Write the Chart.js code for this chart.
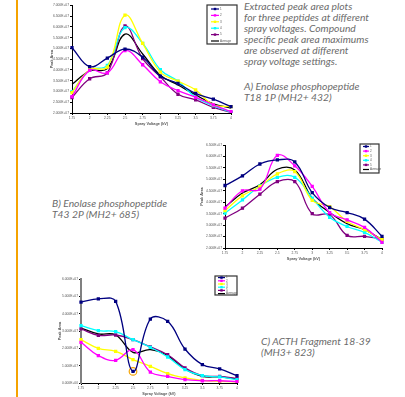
<!DOCTYPE html>
<html>
<head>
<meta charset="utf-8">
<script src="https://cdn.jsdelivr.net/npm/chart.js@4.4.1/dist/chart.umd.min.js"></script>
<style>
body{margin:0;width:405px;height:397px;background:#fff;position:relative;overflow:hidden;font-family:Lato,"Open Sans",sans-serif}
.bar{position:absolute;left:16px;top:0;width:2px;height:397px;background:#F5A300}
.holder{position:absolute}
.txt{position:absolute;font-style:italic;color:#6b6b6b;font-size:10.3px;line-height:11.1px;white-space:nowrap}
</style>
</head>
<body>
<div class="bar"></div>

<div class="txt" style="left:244px;top:0.5px">Extracted peak area plots<br>for three peptides at different<br>spray voltages. Compound<br>specific peak area maximums<br>are observed at different<br>spray voltage settings.</div>
<div class="txt" style="left:244px;top:80.5px">A) Enolase phosphopeptide<br>T18 1P (MH2+ 432)</div>
<div class="txt" style="left:52px;top:197.5px">B) Enolase phosphopeptide<br>T43 2P (MH2+ 685)</div>
<div class="txt" style="left:261px;top:335.5px">C) ACTH Fragment 18-39<br>(MH3+ 823)</div>

<div class="holder" style="left:50px;top:0px"><canvas id="chartA" width="190" height="130"></canvas></div>
<div class="holder" style="left:200px;top:135px"><canvas id="chartB" width="190" height="135"></canvas></div>
<div class="holder" style="left:58px;top:270px"><canvas id="chartC" width="185" height="127"></canvas></div>

<script>
// voltages (kV) on the x axis
var volts = ['1.75', '2', '2.25', '2.5', '2.75', '3', '3.25', '3.5', '3.75', '4']
var seriesNames = ['1', '2', '3', '4', '5', 'Average']
var seriesColors = ['#000080', '#FF00FF', '#FFFF00', '#00FFFF', '#800080', '#000000']

// A) Enolase T18 1P
var a1 = [5.03e7, 4.15e7, 4.55e7, 4.97e7, 4.59e7, 3.71e7, 3.37e7, 2.91e7, 2.64e7, 2.30e7]
var a2 = [2.76e7, 3.98e7, 3.86e7, 4.90e7, 4.24e7, 3.45e7, 3.04e7, 2.73e7, 2.38e7, 2.06e7]
var a3 = [2.95e7, 4.01e7, 4.13e7, 6.54e7, 5.23e7, 3.90e7, 3.48e7, 3.07e7, 2.38e7, 2.30e7]
var a4 = [2.99e7, 3.98e7, 4.21e7, 5.96e7, 5.23e7, 4.01e7, 3.48e7, 2.73e7, 2.34e7, 2.03e7]
var a5 = [2.72e7, 3.59e7, 3.86e7, 6.04e7, 4.52e7, 3.68e7, 2.87e7, 2.61e7, 2.26e7, 2.03e7]
var aAvg = [3.33e7, 3.95e7, 4.06e7, 5.66e7, 4.74e7, 3.75e7, 3.30e7, 2.84e7, 2.43e7, 2.23e7]

// B) Enolase T43 2P
var b1 = [4.73e7, 5.15e7, 5.67e7, 5.85e7, 5.76e7, 4.42e7, 3.77e7, 3.55e7, 3.26e7, 2.51e7]
var b2 = [3.74e7, 4.50e7, 4.57e7, 6.05e7, 5.59e7, 4.69e7, 3.55e7, 3.23e7, 2.90e7, 2.25e7]
var b3 = [3.63e7, 4.28e7, 4.69e7, 5.24e7, 5.34e7, 4.08e7, 3.81e7, 3.16e7, 2.80e7, 2.36e7]
var b4 = [3.52e7, 4.10e7, 4.71e7, 5.09e7, 5.09e7, 4.18e7, 3.34e7, 2.94e7, 2.68e7, 2.25e7]
var b5 = [3.31e7, 3.74e7, 4.35e7, 4.90e7, 4.90e7, 3.50e7, 3.45e7, 2.55e7, 2.51e7, 2.39e7]
var bAvg = [3.79e7, 4.40e7, 4.76e7, 5.44e7, 5.41e7, 4.18e7, 3.55e7, 3.06e7, 2.80e7, 2.36e7]

// C) ACTH 18-39
var c1 = [4.67e7, 4.85e7, 4.71e7, 0.67e7, 3.69e7, 3.56e7, 1.96e7, 1.06e7, 0.81e7, 0.42e7]
var c2 = [2.35e7, 1.58e7, 1.31e7, 1.92e7, 0.63e7, 0.38e7, 0.19e7, 0.13e7, 0.13e7, 0.08e7]
var c3 = [2.50e7, 2.00e7, 1.83e7, 1.35e7, 0.96e7, 0.54e7, 0.29e7, 0.15e7, 0.10e7, 0.06e7]
var c4 = [3.31e7, 3.02e7, 2.96e7, 2.50e7, 2.06e7, 1.50e7, 0.77e7, 0.42e7, 0.35e7, 0.19e7]
var c5 = [3.12e7, 2.75e7, 2.77e7, 2.50e7, 2.08e7, 1.63e7, 0.87e7, 0.42e7, 0.38e7, 0.27e7]
var cAvg = [3.17e7, 2.83e7, 2.77e7, 1.77e7, 1.92e7, 1.58e7, 0.81e7, 0.38e7, 0.35e7, 0.23e7]
var cCircled = 3 // index of the circled outlier on series 1

function sci(v) { // 7.000E+07 style labels
    if (v === 0) return '0.000E+00'
    let e = Math.floor(Math.log10(Math.abs(v)) + 1e-9)
    let m = v / Math.pow(10, e)
    return m.toFixed(3) + 'E' + (e < 0 ? '-' : '+') + String(Math.abs(e)).padStart(2, '0')
}

// legend box drawn inside the plot, like the spreadsheet one
var boxLegend = {
    id: 'boxLegend',
    afterDraw(chart, args, o) {
        if (!o || !o.rect) return
        let ctx = chart.ctx
        let [x, y, w, h] = o.rect
        ctx.save()
        ctx.fillStyle = '#fff'
        ctx.fillRect(x, y, w, h)
        ctx.strokeStyle = '#333'
        ctx.lineWidth = 1.2
        ctx.strokeRect(x, y, w, h)
        let sets = chart.data.datasets.filter(d => !d.noLegend)
        sets.forEach((d, i) => {
            let cy = y + o.first + i * o.step
            ctx.strokeStyle = d.borderColor
            ctx.lineWidth = 1.2
            ctx.beginPath()
            ctx.moveTo(x + o.l0, cy)
            ctx.lineTo(x + o.l1, cy)
            ctx.stroke()
            if (d.pointRadius > 0) {
                ctx.fillStyle = d.borderColor
                ctx.fillRect(x + (o.l0 + o.l1) / 2 - 1.2, cy - 1.2, 2.4, 2.4)
            }
            ctx.fillStyle = '#555'
            ctx.font = '3px "Liberation Sans"'
            ctx.textBaseline = 'middle'
            ctx.fillText(d.label, x + o.l1 + 1, cy)
        })
        ctx.restore()
    }
}

function makeSets(arrays) {
    return arrays.map((arr, i) => ({
        label: seriesNames[i],
        data: arr,
        borderColor: seriesColors[i],
        backgroundColor: seriesColors[i],
        borderWidth: 1.3,
        pointStyle: 'rect',
        pointRadius: i == 5 ? 0 : 1.4,
        tension: 0.4,
        fill: false
    }))
}

function makeChart(id, sets, cfg) {
    let tickFont = {family: 'Liberation Sans', size: 3.3}
    return new Chart(id, {
        type: 'line',
        data: {labels: volts, datasets: sets},
        plugins: [boxLegend],
        options: {
            responsive: false,
            animation: false,
            layout: {padding: cfg.pad},
            plugins: {legend: {display: false}, tooltip: {enabled: false}, boxLegend: cfg.legend},
            scales: {
                x: {
                    afterFit: s => { s.height = 14 },
                    grid: {display: true, drawOnChartArea: false, drawTicks: true, tickLength: 2, color: '#000'},
                    border: {color: '#000', width: 1},
                    ticks: {font: tickFont, color: '#555', padding: 1, maxRotation: 0, autoSkip: false},
                    title: {display: true, text: 'Spray Voltage (kV)', font: {family: 'Liberation Sans', size: 3.8, weight: 'bold'}, color: '#555', padding: {top: 0, bottom: 1}}
                },
                y: {
                    min: cfg.min, max: cfg.max,
                    afterFit: s => { s.width = cfg.yWidth },
                    grid: {display: true, drawOnChartArea: false, drawTicks: true, tickLength: 2, color: '#000'},
                    border: {color: cfg.yAxisColor || '#000', width: cfg.yAxisWidth || 1},
                    ticks: {stepSize: cfg.step, font: tickFont, color: '#555', padding: 1, autoSkip: false, callback: v => sci(v)},
                    title: {display: true, text: 'Peak Area', font: {family: 'Liberation Sans', size: 3.8, weight: 'bold'}, color: '#555', padding: 0}
                }
            }
        }
    })
}

makeChart('chartA', makeSets([a1, a2, a3, a4, a5, aAvg]), {
    min: 2e7, max: 7e7, step: 5e6, yWidth: 22,
    pad: {top: 4, right: 9, bottom: 3, left: 0},
    legend: {rect: [157, 5, 30, 39], first: 4, step: 6.4, l0: 4, l1: 12}
})

makeChart('chartB', makeSets([b1, b2, b3, b4, b5, bAvg]), {
    min: 2e7, max: 6.5e7, step: 5e6, yWidth: 25,
    pad: {top: 10, right: 8, bottom: 8, left: 0},
    legend: {rect: [160, 9, 19, 29], first: 2.5, step: 4.6, l0: 3, l1: 9}
})

var setsC = makeSets([c1, c2, c3, c4, c5, cAvg])
setsC.push({
    label: 'circled', noLegend: true,
    data: c1.map((v, i) => i == cCircled ? v : null),
    showLine: false, pointStyle: 'circle', pointRadius: 3.8,
    pointBorderColor: '#F5A300', pointBackgroundColor: 'rgba(0,0,0,0)', pointBorderWidth: 1.2,
    borderColor: '#F5A300'
})
makeChart('chartC', setsC, {
    min: 0, max: 6e7, step: 1e7, yWidth: 23, yAxisColor: '#808080', yAxisWidth: 2,
    pad: {top: 9, right: 6, bottom: 0, left: 0},
    legend: {rect: [157, 6, 22, 19], first: 1.6, step: 3.2, l0: 3, l1: 10}
})
</script>
</body>
</html>
